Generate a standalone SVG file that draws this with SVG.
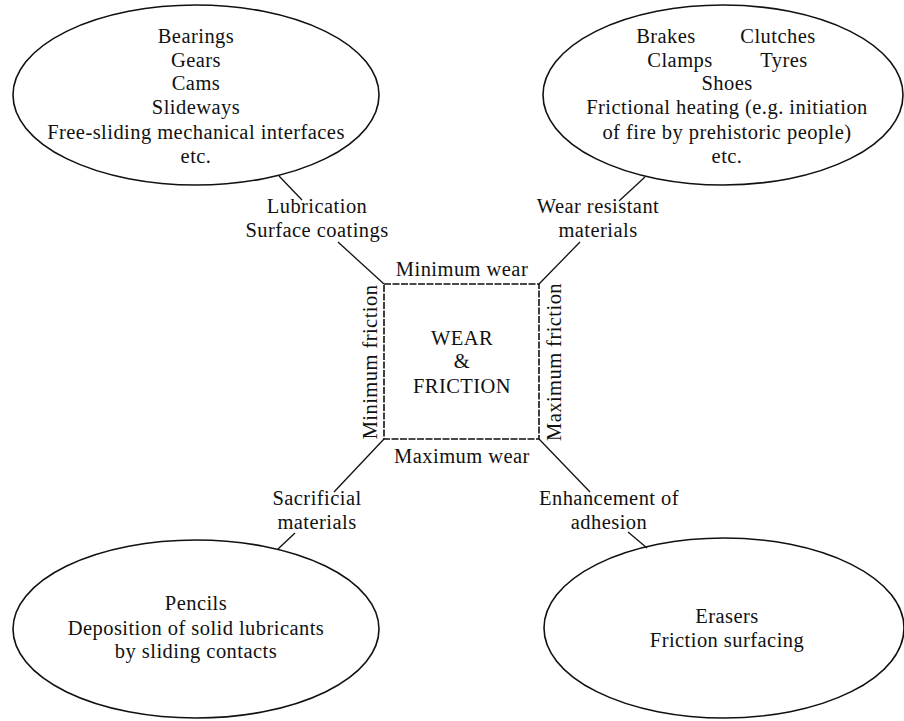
<svg xmlns="http://www.w3.org/2000/svg" width="904" height="721" viewBox="0 0 904 721">
<style>
text{font-family:"Liberation Serif","Times New Roman",serif;font-size:20.5px;letter-spacing:0.45px;fill:#111;text-anchor:middle}
.el{fill:none;stroke:#111;stroke-width:1.6}
.ln{stroke:#111;stroke-width:1.3;fill:none}
.sq{fill:none;stroke:#111;stroke-width:1.6;stroke-dasharray:7 1.5}
</style>
<rect width="904" height="721" fill="#fff"/>
<g id="connectors">
<line class="ln" x1="279" y1="176" x2="302" y2="200"/>
<line class="ln" x1="338" y1="242" x2="384" y2="284"/>
<line class="ln" x1="645" y1="177" x2="619" y2="201"/>
<line class="ln" x1="580" y1="242" x2="539" y2="284"/>
<line class="ln" x1="384" y1="439" x2="334" y2="492"/>
<line class="ln" x1="295" y1="533" x2="278" y2="549"/>
<line class="ln" x1="539" y1="439" x2="590" y2="492"/>
<line class="ln" x1="628" y1="532" x2="647" y2="548"/>
</g>
<g id="bearings">
<ellipse class="el" cx="196" cy="95" rx="183" ry="90"/>
<text x="196" y="43">Bearings</text>
<text x="196" y="67">Gears</text>
<text x="196" y="90">Cams</text>
<text x="196" y="114">Slideways</text>
<text x="196" y="139">Free-sliding mechanical interfaces</text>
<text x="196" y="163">etc.</text>
</g>
<g id="brakes">
<ellipse class="el" cx="723" cy="95" rx="180" ry="90"/>
<text x="666" y="43">Brakes</text>
<text x="778" y="43">Clutches</text>
<text x="680" y="67">Clamps</text>
<text x="784" y="67">Tyres</text>
<text x="727" y="90">Shoes</text>
<text x="727" y="114">Frictional heating (e.g. initiation</text>
<text x="727" y="139">of fire by prehistoric people)</text>
<text x="727" y="163">etc.</text>
</g>
<g id="pencils">
<ellipse class="el" cx="196" cy="629" rx="183" ry="89"/>
<text x="196" y="610">Pencils</text>
<text x="196" y="635">Deposition of solid lubricants</text>
<text x="196" y="658">by sliding contacts</text>
</g>
<g id="erasers">
<ellipse class="el" cx="724" cy="628" rx="180" ry="90"/>
<text x="727" y="623">Erasers</text>
<text x="727" y="647">Friction surfacing</text>
</g>
<g id="center">
<rect class="sq" x="384" y="284" width="155" height="155"/>
<text x="462" y="345">WEAR</text>
<text x="462" y="368">&amp;</text>
<text x="462" y="393">FRICTION</text>
</g>
<g id="labels">
<text x="317" y="213">Lubrication</text>
<text x="317" y="237">Surface coatings</text>
<text x="598" y="213">Wear resistant</text>
<text x="598" y="237">materials</text>
<text x="462" y="276">Minimum wear</text>
<text x="462" y="463">Maximum wear</text>
<text transform="translate(377 362) rotate(-90)">Minimum friction</text>
<text transform="translate(561 362) rotate(-90)">Maximum friction</text>
<text x="317" y="505">Sacrificial</text>
<text x="317" y="529">materials</text>
<text x="609" y="505">Enhancement of</text>
<text x="609" y="529">adhesion</text>
</g>
</svg>
